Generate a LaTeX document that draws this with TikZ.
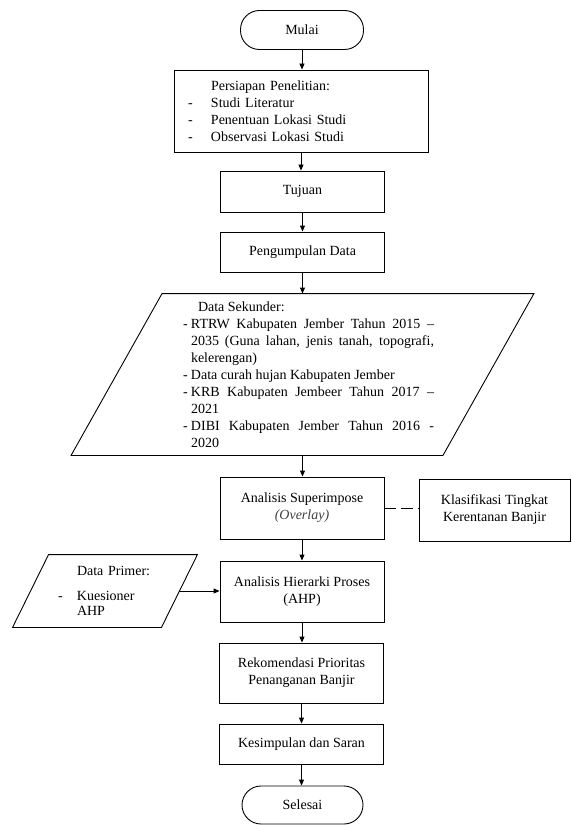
\documentclass[tikz,border=0pt]{standalone}
\usepackage{fontspec}
\setmainfont{Liberation Serif}
\usetikzlibrary{calc,arrows.meta,positioning}

\begin{document}
\begin{tikzpicture}[x=1pt,y=-1pt,line width=0.9pt,
    every node/.style={font=\fontsize{14}{17}\selectfont,inner sep=2pt},
    box/.style={draw,rectangle,align=center,minimum width=164pt,minimum height=41pt},
    term/.style={draw,rectangle,rounded corners=19pt,minimum width=123pt,minimum height=39pt},
    io/.style={rectangle,inner sep=0pt},
    arr/.style={-{Triangle[length=6pt,width=5pt]}}]
  \useasboundingbox (0,0) rectangle (571,826);
  % kolom utama
  \node[term] (mulai) at (302,30) {Mulai};
  \node[draw,rectangle,minimum width=254pt,minimum height=82pt,text width=226pt,
        inner xsep=14pt,align=left] (pers) at (301,111)
    {\hspace*{23pt}Persiapan Penelitian:\\
     \makebox[23pt][l]{-}Studi Literatur\\
     \makebox[23pt][l]{-}Penentuan Lokasi Studi\\
     \makebox[23pt][l]{-}Observasi Lokasi Studi};
  \node[box] (tuj) at (302.5,191.5) {Tujuan};
  \node[box,minimum height=40pt] (kumpul) at (302.5,252) {Pengumpulan Data};
  \node[io,minimum width=371pt,minimum height=161pt,text width=263pt,align=justify] (sek) at (302.5,374.5)
    {\leftskip=12pt
     \noindent\hspace*{15pt}Data Sekunder:\par
     \noindent\hangindent=8pt\makebox[8pt][l]{-}RTRW Kabupaten Jember Tahun 2015 --\linebreak
       2035 (Guna lahan, jenis tanah, topografi,\linebreak kelerengan)\par
     \noindent\hangindent=8pt\makebox[8pt][l]{-}Data curah hujan Kabupaten Jember\par
     \noindent\hangindent=8pt\makebox[8pt][l]{-}KRB Kabupaten Jembeer Tahun 2017 --\linebreak 2021\par
     \noindent\hangindent=8pt\makebox[8pt][l]{-}DIBI Kabupaten Jember Tahun 2016 -\linebreak 2020\par};
  \node[box,minimum height=62pt] (sup) at (302,508)
    {Analisis Superimpose\\ {\itshape\color{black!75}(Overlay)}};
  \node[box,minimum height=61pt] (ahp) at (302,591.5)
    {Analisis Hierarki Proses\\ (AHP)};
  \node[box,minimum height=60pt] (rek) at (301.5,673)
    {Rekomendasi Prioritas\\ Penanganan Banjir};
  \node[box,minimum height=40pt] (simp) at (301.5,744) {Kesimpulan dan Saran};
  \node[term,minimum width=121pt,minimum height=38pt] (selesai) at (302.5,805) {Selesai};
  % samping
  \node[box,minimum width=151pt,minimum height=62pt] (kls) at (494.5,510)
    {Klasifikasi Tingkat\\ Kerentanan Banjir};
  \node[io,minimum width=148pt,minimum height=72pt,text width=94pt,align=left] (prim) at (105,591)
    {\hspace*{19pt}Data Primer:\\[8pt]
     \makebox[19pt][l]{-}Kuesioner\\[-2pt]
     \hspace*{19pt}AHP};
  % jajaran genjang
  \foreach \n/\s in {sek/45.5,prim/18}
    \draw ($(\n.north west)+(\s,0)$) -- ($(\n.north east)+(\s,0)$)
       -- ($(\n.south east)-(\s,0)$) -- ($(\n.south west)-(\s,0)$) -- cycle;
  % panah
  \foreach \a/\b in {mulai/pers,pers/tuj,tuj/kumpul,kumpul/sek,sek/sup,sup/ahp,ahp/rek,rek/simp,simp/selesai}
    \draw[arr] (\a.south) -- (\a.south |- \b.north);
  \draw[arr] (prim.east) -- (prim.east -| ahp.west);
  \draw[dash pattern=on 12pt off 5pt] (sup.east) -- (sup.east -| kls.west);
\end{tikzpicture}
\end{document}
